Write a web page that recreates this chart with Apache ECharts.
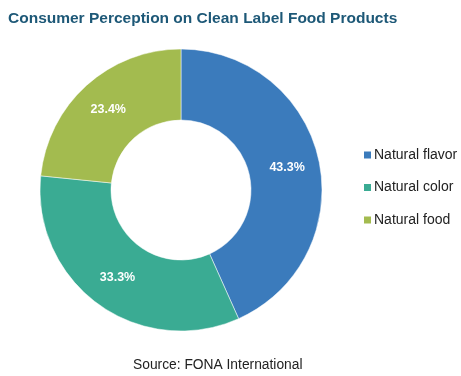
<!DOCTYPE html>
<html>
<head>
<meta charset="utf-8">
<script src="https://cdn.jsdelivr.net/npm/echarts@6/dist/echarts.min.js"></script>
<style>html,body{margin:0;padding:0;background:#fff}#c{width:461px;height:376px}</style>
</head>
<body>
<div id="c"></div>
<script>
var categories = ['Natural flavor', 'Natural color', 'Natural food'];
var values = [43.3, 33.3, 23.4];
var colors = ['#3b7bbc', '#3aab93', '#a3bb4f'];

var chart = echarts.init(document.getElementById('c'), null, {renderer: 'canvas'});
chart.setOption({
  animation: false,
  color: colors,
  title: [{
    text: 'Consumer Perception on Clean Label Food Products',
    left: 3, top: 6,
    textStyle: {fontFamily: 'Liberation Sans', fontSize: 15.5, fontWeight: 'bold', color: '#1d5877'}
  }, {
    text: 'Source: FONA International',
    left: 128, top: 353,
    textStyle: {fontFamily: 'Liberation Sans', fontSize: 13.8, fontWeight: 'normal', color: '#222'}
  }],
  legend: {
    orient: 'vertical',
    left: 357, top: 143,
    itemWidth: 9, itemHeight: 9, itemGap: 18.5,
    icon: 'rect',
    textStyle: {fontFamily: 'Liberation Sans', fontSize: 14, color: '#222', padding: [0,0,0,-3]},
    data: categories
  },
  series: [{
    type: 'pie',
    center: [181, 190],
    radius: [70, 141],
    startAngle: 90,
    clockwise: true,
    label: {
      show: true, position: 'inside',
      formatter: function(p){ return p.value.toFixed(1) + '%'; },
      color: '#fff', fontFamily: 'Liberation Sans', fontSize: 12.5, fontWeight: 'bold'
    },
    labelLine: {show: false},
    itemStyle: {borderColor: '#fff', borderWidth: 0.5},
    data: categories.map(function(c, i){ return {name: c, value: values[i]}; })
  }]
});
</script>
</body>
</html>
